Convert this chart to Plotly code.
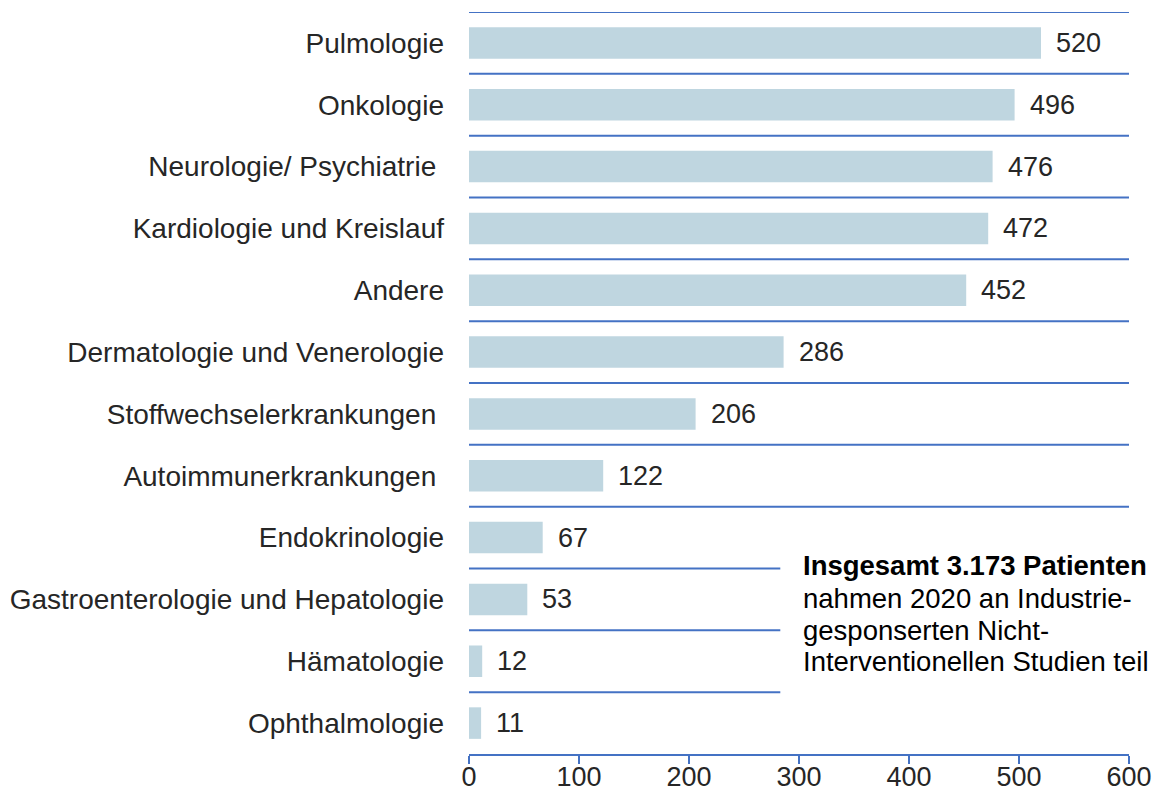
import plotly.graph_objects as go

categories = ["Pulmologie", "Onkologie", "Neurologie/ Psychiatrie ", "Kardiologie und Kreislauf",
              "Andere", "Dermatologie und Venerologie", "Stoffwechselerkrankungen ",
              "Autoimmunerkrankungen ", "Endokrinologie", "Gastroenterologie und Hepatologie",
              "Hämatologie", "Ophthalmologie"]
patients = [520, 496, 476, 472, 452, 286, 206, 122, 67, 53, 12, 11]
x_ticks = [0, 100, 200, 300, 400, 500, 600]
note_lines = ["<b>Insgesamt 3.173 Patienten</b>", "nahmen 2020 an Industrie-",
              "gesponserten Nicht-", "Interventionellen Studien teil"]

BLUE = "#4472C4"
BAR = "#BFD6E0"
TXT = "#262626"
FONT = "Liberation Sans, Arial, sans-serif"
FS_LAB = 28
FS_NUM = 27
FS_NOTE = 27.5
NOTE_X_END = 283      # grid lines under the note stop here (x data units)
NOTE_FROM = 9         # separators from this index on are shortened

n = len(categories)
idx = list(range(n))
labels = [c[:-1] + "\u00a0" if c.endswith(" ") else c for c in categories]

fig = go.Figure(go.Bar(
    y=idx, x=patients, orientation="h", width=0.51,
    marker=dict(color=BAR, line=dict(width=0)),
    hoverinfo="skip",
))

# value labels
for i, v in zip(idx, patients):
    fig.add_annotation(x=v, y=i, text=str(v), showarrow=False, xanchor="left",
                       xshift=13, font=dict(family=FONT, size=FS_NUM, color=TXT))

# category separator lines
shapes = []
for k in range(n):
    shapes.append(dict(type="line", xref="x", yref="y", x0=0,
                       x1=NOTE_X_END if k >= NOTE_FROM else 600,
                       y0=k - 0.5, y1=k - 0.5,
                       line=dict(color=BLUE, width=2), layer="below"))
fig.update_layout(shapes=shapes)

note_y = [0.2534, 0.2102, 0.1671, 0.1240]
for line, yy in zip(note_lines, note_y):
    fig.add_annotation(xref="paper", yref="paper", x=0.503, y=yy, xanchor="left",
                       yanchor="middle", align="left", showarrow=False, text=line,
                       font=dict(family=FONT, size=FS_NOTE, color="black"))

fig.update_layout(
    width=1159, height=798,
    margin=dict(l=469, r=30, t=12, b=44),
    paper_bgcolor="white", plot_bgcolor="white",
    showlegend=False,
    font=dict(family=FONT, size=FS_LAB, color=TXT),
    xaxis=dict(range=[0, 600], tickvals=x_ticks, showgrid=False, zeroline=False,
               showline=True, linecolor=BLUE, linewidth=2, automargin=False,
               ticks="outside", ticklen=8, tickcolor=BLUE, tickwidth=2,
               ticklabelstandoff=-10,
               tickfont=dict(family=FONT, size=FS_NUM, color=TXT)),
    yaxis=dict(range=[n - 0.5, -0.5], tickvals=idx, ticktext=labels, showgrid=False,
               zeroline=False, showline=False, ticks="", ticklabelstandoff=24,
               automargin=False,
               tickfont=dict(family=FONT, size=FS_LAB, color=TXT)),
)

fig.write_html("out.html", config={"displayModeBar": False},
               post_script="document.body.style.margin='0px';")
